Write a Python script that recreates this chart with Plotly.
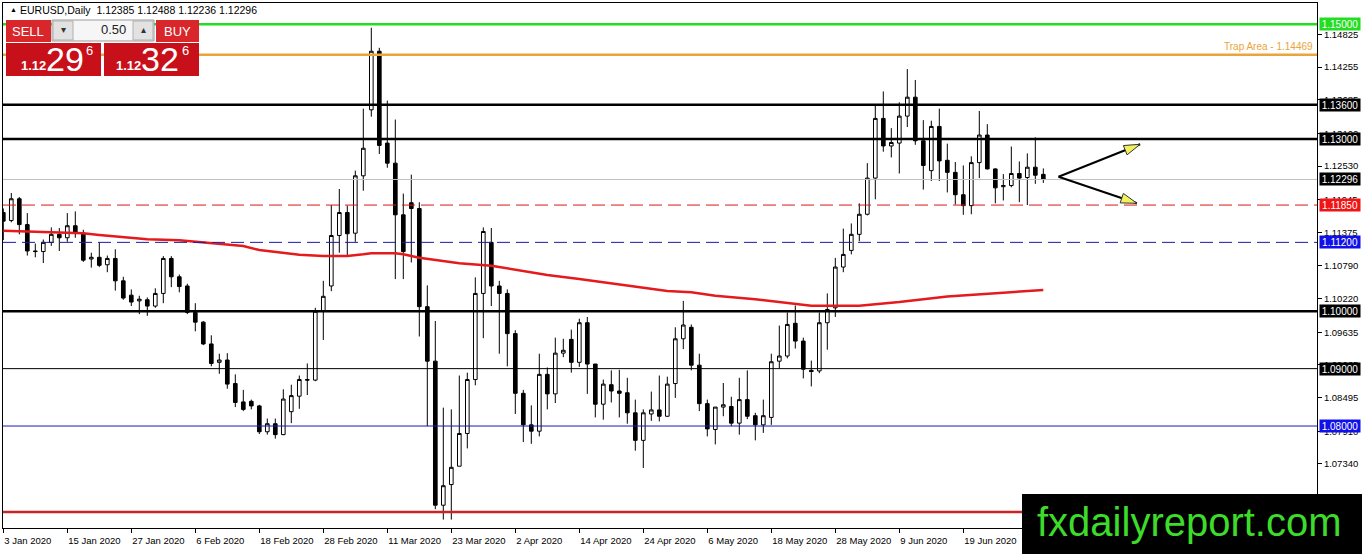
import plotly.graph_objects as go

# EURUSD daily candles, 3 Jan 2020 .. 3 Jul 2020
opens = [
    1.1172, 1.1158, 1.1196, 1.1151, 1.1105, 1.1104, 1.1120, 1.1134, 1.1128, 1.1149,
    1.1136, 1.1091, 1.1094, 1.1081, 1.1092, 1.1053, 1.1028, 1.1018, 1.1020, 1.1009,
    1.1031, 1.1092, 1.1060, 1.1044, 1.0998, 1.0981, 1.0943, 1.0911, 1.0915, 1.0874,
    1.0842, 1.0843, 1.0835, 1.0790, 1.0804, 1.0785, 1.0825, 1.0852, 1.0881, 1.0880,
    1.1000, 1.1044, 1.1132, 1.1172, 1.1136, 1.1236, 1.1351, 1.1453, 1.1293, 1.1258,
    1.1168, 1.1189, 1.1179, 1.1008, 1.0913, 1.0662, 1.0698, 1.0730, 1.0787, 1.0881,
    1.1031, 1.1120, 1.1044, 1.1031, 1.0961, 1.0857, 1.0802, 1.0791, 1.0890, 1.0856,
    1.0927, 1.0951, 1.0911, 1.0980, 1.0908, 1.0838, 1.0872, 1.0861, 1.0858, 1.0823,
    1.0775, 1.0821, 1.0828, 1.0817, 1.0874, 1.0952, 1.0972, 1.0906, 1.0839, 1.0794,
    1.0833, 1.0834, 1.0805, 1.0846, 1.0818, 1.0802, 1.0815, 1.0913, 1.0922, 1.0979,
    1.0948, 1.0897, 1.0896, 1.0980, 1.1006, 1.1077, 1.1106, 1.1134, 1.1169, 1.1232,
    1.1336, 1.1288, 1.1293, 1.1340, 1.1373, 1.1297, 1.1245, 1.1322, 1.1263, 1.1242,
    1.1203, 1.1184, 1.1259, 1.1307, 1.1248, 1.1217, 1.1219, 1.1240, 1.1233, 1.1251,
    1.12385]
highs = [
    1.1179, 1.1206, 1.1199, 1.1171, 1.1118, 1.1125, 1.1146, 1.1145, 1.1171, 1.1174,
    1.1142, 1.1102, 1.1120, 1.1097, 1.1108, 1.1060, 1.1038, 1.1027, 1.1024, 1.1040,
    1.1096, 1.1096, 1.1064, 1.1048, 1.1014, 1.0983, 1.0958, 1.0926, 1.0927, 1.0890,
    1.0863, 1.0846, 1.0837, 1.0813, 1.0813, 1.0864, 1.0872, 1.0888, 1.0909, 1.1006,
    1.1053, 1.1185, 1.1213, 1.1184, 1.1245, 1.1353, 1.1494, 1.1459, 1.1367, 1.1334,
    1.1205, 1.1238, 1.1190, 1.1045, 1.0983, 1.0832, 1.0829, 1.0888, 1.0893, 1.1059,
    1.1146, 1.1145, 1.1053, 1.1038, 1.0967, 1.0863, 1.0836, 1.0926, 1.0902, 1.0954,
    1.0952, 1.0968, 1.0987, 1.0990, 1.0908, 1.0881, 1.0897, 1.0898, 1.0884, 1.0846,
    1.0829, 1.0860, 1.0888, 1.0886, 1.0972, 1.1018, 1.0977, 1.0926, 1.0846, 1.0833,
    1.0875, 1.0851, 1.0884, 1.0897, 1.0823, 1.0846, 1.0926, 1.0975, 1.0998, 1.1010,
    1.0954, 1.0914, 1.0998, 1.1031, 1.1093, 1.1144, 1.1153, 1.1188, 1.1258, 1.1360,
    1.1383, 1.1319, 1.1364, 1.1422, 1.1403, 1.1333, 1.1332, 1.1353, 1.1292, 1.1260,
    1.1254, 1.1270, 1.1349, 1.1326, 1.1249, 1.1239, 1.1287, 1.1261, 1.1275, 1.1303,
    1.12488]
lows = [
    1.1124, 1.1155, 1.1134, 1.1097, 1.1094, 1.1084, 1.1114, 1.1105, 1.1121, 1.1128,
    1.1086, 1.1076, 1.1077, 1.1068, 1.1036, 1.1020, 1.1009, 1.0995, 1.0992, 1.1006,
    1.1014, 1.1042, 1.1033, 1.0995, 1.0965, 1.0941, 1.0904, 1.0891, 1.0865, 1.0833,
    1.0826, 1.0829, 1.0786, 1.0785, 1.0778, 1.0784, 1.0805, 1.0830, 1.0854, 1.0878,
    1.0950, 1.1035, 1.1102, 1.1096, 1.1121, 1.1210, 1.1339, 1.1274, 1.1250, 1.1056,
    1.1056, 1.1085, 1.0956, 1.0800, 1.0655, 1.0637, 1.0637, 1.0730, 1.0761, 1.0871,
    1.0953, 1.1009, 1.0926, 1.0904, 1.0821, 1.0772, 1.0769, 1.0782, 1.0829, 1.0840,
    1.0920, 1.0893, 1.0903, 1.0856, 1.0815, 1.0811, 1.0841, 1.0815, 1.0804, 1.0757,
    1.0727, 1.0809, 1.0808, 1.0816, 1.0849, 1.0934, 1.0897, 1.0826, 1.0782, 1.0768,
    1.0817, 1.0800, 1.0785, 1.0812, 1.0775, 1.0788, 1.0802, 1.0900, 1.0918, 1.0935,
    1.0883, 1.0869, 1.0892, 1.0933, 1.0990, 1.1068, 1.1099, 1.1122, 1.1167, 1.1195,
    1.1278, 1.1268, 1.1240, 1.1321, 1.1290, 1.1212, 1.1227, 1.1227, 1.1207, 1.1186,
    1.1168, 1.1169, 1.1232, 1.1247, 1.1188, 1.1193, 1.1216, 1.1190, 1.1185, 1.1222,
    1.12236]
closes = [
    1.1157, 1.1196, 1.1151, 1.1105, 1.1104, 1.1120, 1.1134, 1.1128, 1.1149, 1.1136,
    1.1089, 1.1094, 1.1080, 1.1092, 1.1053, 1.1023, 1.1016, 1.1021, 1.1009, 1.1031,
    1.1092, 1.1060, 1.1043, 1.0998, 1.0981, 1.0943, 1.0909, 1.0915, 1.0873, 1.0841,
    1.0829, 1.0835, 1.0790, 1.0804, 1.0785, 1.0847, 1.0853, 1.0881, 1.0880, 1.1000,
    1.1026, 1.1132, 1.1172, 1.1135, 1.1236, 1.1284, 1.1453, 1.1289, 1.1258, 1.1168,
    1.1104, 1.1179, 1.1008, 1.0913, 1.0662, 1.0696, 1.0728, 1.0787, 1.0881, 1.1031,
    1.1139, 1.1044, 1.1031, 1.0961, 1.0857, 1.0802, 1.0791, 1.0890, 1.0856, 1.0927,
    1.0932, 1.0911, 1.0980, 1.0908, 1.0838, 1.0873, 1.0861, 1.0857, 1.0823, 1.0775,
    1.0823, 1.0828, 1.0817, 1.0873, 1.0952, 1.0976, 1.0906, 1.0839, 1.0795, 1.0833,
    1.0837, 1.0805, 1.0846, 1.0817, 1.0802, 1.0818, 1.0912, 1.0922, 1.0977, 1.0948,
    1.0899, 1.0895, 1.0980, 1.1003, 1.1077, 1.1099, 1.1134, 1.1169, 1.1232, 1.1336,
    1.1288, 1.1294, 1.1340, 1.1373, 1.1297, 1.1254, 1.1322, 1.1262, 1.1242, 1.1203,
    1.1184, 1.1259, 1.1307, 1.1248, 1.1215, 1.1219, 1.1240, 1.1232, 1.1251, 1.1237,
    1.12296]
bars = list(range(len(closes)))

# moving average, sampled along the red curve (bar index, price)
ma_bars = [0, 4, 10, 12, 15, 18, 22, 24, 27, 30, 32, 35, 37, 40, 43, 45, 46, 49, 50, 52,
           55, 57, 61, 63, 66, 68, 72, 75, 78, 81, 83, 86, 89, 94, 98, 101, 107, 112,
           118, 125, 130]
ma_vals = [1.11404, 1.11386, 1.11358, 1.11329, 1.11289, 1.11254, 1.11236, 1.11212,
           1.11184, 1.11137, 1.11067, 1.11020, 1.10985, 1.10963, 1.10963, 1.10992,
           1.11010, 1.11010, 1.10992, 1.10933, 1.10881, 1.10836, 1.10794, 1.10748,
           1.10689, 1.10632, 1.10562, 1.10505, 1.10445, 1.10400, 1.10353, 1.10330,
           1.10271, 1.10208, 1.10139, 1.10097, 1.10097, 1.10161, 1.10257, 1.10318,
           1.10370]

# time axis labels
tick_bars = [0, 8, 16, 24, 32, 40, 48, 56, 64, 72, 80, 88, 96, 104, 112, 120]
tick_dates = ["3 Jan 2020", "15 Jan 2020", "27 Jan 2020", "6 Feb 2020", "18 Feb 2020",
              "28 Feb 2020", "11 Mar 2020", "23 Mar 2020", "2 Apr 2020", "14 Apr 2020",
              "24 Apr 2020", "6 May 2020", "18 May 2020", "28 May 2020", "9 Jun 2020",
              "19 Jun 2020"]

# price axis labels
price_ticks = [1.14825, 1.14255, 1.13685, 1.13100, 1.12530, 1.11945, 1.11375, 1.10790,
               1.10220, 1.09635, 1.09065, 1.08495, 1.07910, 1.07340, 1.06770]

# horizontal levels drawn on the chart
levels = [1.15000, 1.14469, 1.13600, 1.13000, 1.12296, 1.11850, 1.11200, 1.10000,
          1.09000, 1.08000, 1.06500]
level_styles = [
    dict(color="#22dd22", width=2.5, dash="solid", box="#22dd22"),
    dict(color="#eba43a", width=2.5, dash="solid", box=None),
    dict(color="black", width=2.5, dash="solid", box="black"),
    dict(color="black", width=2.5, dash="solid", box="black"),
    dict(color="#c0c0c0", width=1, dash="solid", box="black"),
    dict(color="#d81818", width=1, dash="13px,6px", box="#f01414"),
    dict(color="#1a1aa8", width=1, dash="13px,6px", box="#1010e8"),
    dict(color="black", width=2.5, dash="solid", box="black"),
    dict(color="black", width=1, dash="solid", box="black"),
    dict(color="#1a1ab4", width=1, dash="solid", box="#1010e8"),
    dict(color="#cc2222", width=2.5, dash="solid", box=None),
]

# plot geometry (pixels) and axis ranges
W, H = 1362, 554
PL, PR, PT, PB = 3, 1317, 3, 528
X0, X1 = -0.0375, 164.21
Y0, Y1 = 1.06223, 1.15371


def px2paper(x, y):
    return (x - PL) / (PR - PL), (PB - y) / (PB - PT)


def data2px(xd, yd):
    return (PL + (xd - X0) / (X1 - X0) * (PR - PL),
            PT + (Y1 - yd) / (Y1 - Y0) * (PB - PT))


def px2data(x, y):
    return (X0 + (x - PL) / (PR - PL) * (X1 - X0),
            Y1 - (y - PT) / (PB - PT) * (Y1 - Y0))


fig = go.Figure()
fig.add_trace(go.Candlestick(
    x=bars, open=opens, high=highs, low=lows, close=closes,
    increasing=dict(line=dict(color="black", width=1), fillcolor="white"),
    decreasing=dict(line=dict(color="black", width=1), fillcolor="black"),
    whiskerwidth=0, hoverinfo="skip", showlegend=False))
fig.add_trace(go.Scatter(x=ma_bars, y=ma_vals, mode="lines",
                         line=dict(color="#e41a1c", width=2.5),
                         hoverinfo="skip", showlegend=False))

annotations = []
for lvl, st in zip(levels, level_styles):
    fig.add_shape(type="line", xref="paper", yref="y", x0=0, x1=1, y0=lvl, y1=lvl,
                  line=dict(color=st["color"], width=st["width"], dash=st["dash"]),
                  layer="above")
    if st["box"]:
        annotations.append(dict(
            x=1, xref="paper", y=lvl, yref="y", xanchor="left", yanchor="middle",
            xshift=2, text=f"{lvl:.5f}", showarrow=False, bgcolor=st["box"],
            font=dict(color="white", size=10, family="Liberation Sans"),
            width=40, height=12, borderpad=0, align="center"))

annotations.append(dict(
    x=1, xref="paper", y=levels[1], yref="y", xanchor="right", yanchor="bottom",
    xshift=-2, yshift=1, text=f"Trap Area - {levels[1]:.5f}", showarrow=False,
    font=dict(color="#eba43a", size=10, family="Liberation Sans")))

# arrows drawn to the right of the last candle
apex = (131.9, 1.12344)
tips = [(142.1, 1.12909), (141.7, 1.11881)]
ax_, ay_ = data2px(*apex)
for tip in tips:
    fig.add_shape(type="line", xref="x", yref="y", x0=apex[0], y0=apex[1],
                  x1=tip[0], y1=tip[1], line=dict(color="black", width=2),
                  layer="above")
    tx, ty = data2px(*tip)
    ln = ((tx - ax_) ** 2 + (ty - ay_) ** 2) ** 0.5
    ux, uy = (tx - ax_) / ln, (ty - ay_) / ln
    nx, ny = -uy, ux
    bx, by = tx - 16 * ux, ty - 16 * uy
    pts = [(tx, ty), (bx + 5 * nx, by + 5 * ny), (bx - 5 * nx, by - 5 * ny)]
    pts = [px2data(*p) for p in pts]
    path = "M {} {} L {} {} L {} {} Z".format(*[v for p in pts for v in p])
    fig.add_shape(type="path", xref="x", yref="y", path=path,
                  fillcolor="#f2f25a", line=dict(color="#303030", width=1),
                  layer="above")


def rect(x0, y0, x1, y1, fill, line=None):
    a0, b0 = px2paper(x0, y1)
    a1, b1 = px2paper(x1, y0)
    fig.add_shape(type="rect", xref="paper", yref="paper", x0=a0, y0=b0, x1=a1, y1=b1,
                  fillcolor=fill, line=dict(color=line or fill, width=1 if line else 0),
                  layer="above")


def label(x, y, text, size, color="white", anchor="center", bold=False):
    a, b = px2paper(x, y)
    annotations.append(dict(
        x=a, y=b, xref="paper", yref="paper", xanchor=anchor, yanchor="middle",
        text=f"<b>{text}</b>" if bold else text, showarrow=False,
        font=dict(color=color, size=size, family="Liberation Sans")))


# header line
label(8, 10, "▲", 7, color="black", anchor="left")
label(18, 10, "EURUSD,Daily  1.12385 1.12488 1.12236 1.12296", 10.5, color="black",
      anchor="left")

# one-click trading panel
rect(52, 20, 154, 41, "#f6f6f6", "#9a9a9a")
rect(53, 21, 73, 40, "#e2e2e2", "#b0b0b0")
rect(133, 21, 153, 40, "#e2e2e2", "#b0b0b0")
label(63, 30, "▾", 10, color="#333333")
label(143, 30, "▴", 10, color="#333333")
label(128, 30, "0.50", 13, color="#222222", anchor="right")
rect(6, 20, 51, 42, "#d8262b")
rect(156, 20, 199, 42, "#d8262b")
rect(6, 43, 101, 76, "#c8101a")
rect(104, 43, 199, 76, "#c8101a")
label(28, 31, "SELL", 13)
label(177, 31, "BUY", 13)
label(33, 65, "1.12", 13, bold=True)
label(65, 59, "29", 34)
label(89, 50, "6", 13)
label(128, 65, "1.12", 13, bold=True)
label(160, 59, "32", 34)
label(185, 50, "6", 13)

# watermark box
rect(1022, 494, 1362, 554, "black")
label(1189, 522, "fxdailyreport.com", 40, color="#3ddc2a")

fig.update_layout(
    width=W, height=H,
    margin=dict(l=PL, r=W - PR, t=PT, b=H - PB, autoexpand=False),
    paper_bgcolor="white", plot_bgcolor="white",
    showlegend=False, boxgap=0.35,
    font=dict(family="Liberation Sans", size=10, color="black"),
    annotations=annotations,
    xaxis=dict(range=[X0, X1], tickvals=tick_bars, ticktext=tick_dates,
               ticks="outside", ticklen=4, tickcolor="black", tickangle=0,
               ticklabelposition="outside right", ticklabelstandoff=4,
               tickfont=dict(size=9.5),
               showline=True, linecolor="black", linewidth=1, mirror=True,
               showgrid=False, zeroline=False, automargin=False,
               rangeslider=dict(visible=False)),
    yaxis=dict(range=[Y0, Y1], side="right", tickvals=price_ticks,
               ticktext=[f"{v:.5f}" for v in price_ticks],
               ticks="outside", ticklen=4, tickcolor="black", tickfont=dict(size=9.5),
               showline=True, linecolor="black", linewidth=1, mirror=True,
               showgrid=False, zeroline=False, automargin=False),
)

# page body has a default margin; drop it so the chart fills the window
fig.write_html("out.html", config={"displayModeBar": False},
               post_script="document.body.style.margin='0';"
                           "document.body.style.overflow='hidden';")
